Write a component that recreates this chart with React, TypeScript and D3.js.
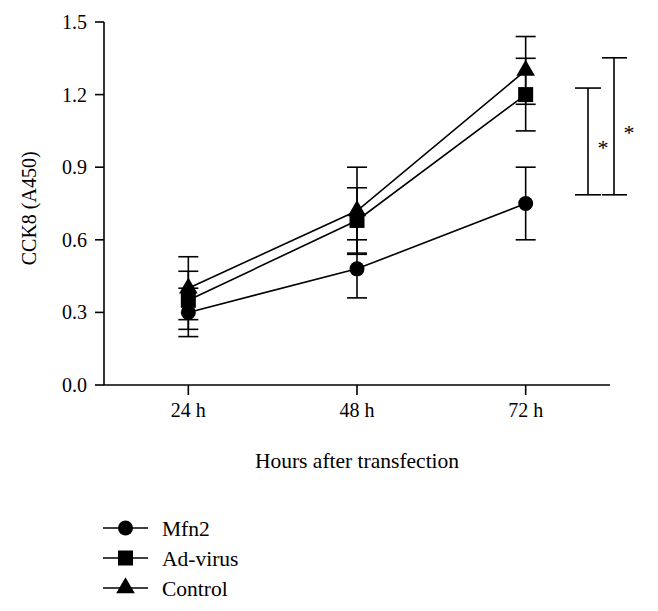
import React from "react";
import * as d3 from "d3";

const categories = ["24 h", "48 h", "72 h"];
const seriesNames = ["Mfn2", "Ad-virus", "Control"];
const mfn2Values = [0.30, 0.48, 0.75];
const mfn2Errors = [0.10, 0.12, 0.15];
const adVirusValues = [0.35, 0.68, 1.20];
const adVirusErrors = [0.12, 0.135, 0.15];
const controlValues = [0.40, 0.72, 1.30];
const controlErrors = [0.13, 0.18, 0.14];
const yTicks = [0.0, 0.3, 0.6, 0.9, 1.2, 1.5];
const brackets = [
  { top: 1.227, bottom: 0.786, label: "*" },
  { top: 1.352, bottom: 0.786, label: "*" },
];

const W = 658;
const H = 611;
const FONT = "'Liberation Serif', 'Times New Roman', serif";

export default function App() {
  const x = d3.scalePoint<string>().domain(categories).range([104, 610]).padding(0.5);
  const y = d3.scaleLinear().domain([0, 1.5]).range([385, 22]);

  const series = [
    { name: seriesNames[0], values: mfn2Values, errors: mfn2Errors, shape: "circle" },
    { name: seriesNames[1], values: adVirusValues, errors: adVirusErrors, shape: "square" },
    { name: seriesNames[2], values: controlValues, errors: controlErrors, shape: "triangle" },
  ];

  const line = d3
    .line<number>()
    .x((_, i) => x(categories[i]) as number)
    .y((d) => y(d));

  const marker = (shape: string, cx: number, cy: number, key?: string) => {
    if (shape === "circle") return <circle key={key} cx={cx} cy={cy} r={7.5} fill="#000" />;
    if (shape === "square")
      return <rect key={key} x={cx - 7.5} y={cy - 7.5} width={15} height={15} fill="#000" />;
    const p = d3.symbol(d3.symbolTriangle, 150)();
    return <path key={key} d={p as string} transform={`translate(${cx},${cy})`} fill="#000" />;
  };

  const sw = 1.6;
  const capHalf = 10;
  const bx = [588, 614];
  const capL = [[575, 601], [602, 627]];
  const starX = [603, 629];

  return (
    <svg width={W} height={H} style={{ display: "block", position: "absolute", left: 0, top: 0 }}>
      <rect width={W} height={H} fill="#fff" />
      {/* Y axis */}
      <line x1={104} x2={104} y1={y(1.5)} y2={y(0)} stroke="#000" strokeWidth={sw} />
      {yTicks.map((t) => (
        <g key={t}>
          <line x1={95} x2={104} y1={y(t)} y2={y(t)} stroke="#000" strokeWidth={sw} />
          <text x={87} y={y(t)} dy="0.35em" textAnchor="end" fontFamily={FONT} fontSize={20}>
            {t.toFixed(1)}
          </text>
        </g>
      ))}
      <text
        transform={`translate(29,${y(0.73)}) rotate(-90)`}
        textAnchor="middle"
        dy="0.35em"
        fontFamily={FONT}
        fontSize={20}
      >
        CCK8 (A450)
      </text>
      {/* X axis */}
      <line x1={104} x2={610} y1={385} y2={385} stroke="#000" strokeWidth={sw} />
      {categories.map((c) => (
        <g key={c}>
          <line x1={x(c)} x2={x(c)} y1={385} y2={395} stroke="#000" strokeWidth={sw} />
          <text x={x(c)} y={417} textAnchor="middle" fontFamily={FONT} fontSize={20}>
            {c}
          </text>
        </g>
      ))}
      <text x={357} y={468} textAnchor="middle" fontFamily={FONT} fontSize={21.5}>
        Hours after transfection
      </text>
      {/* error bars */}
      {series.map((s) =>
        s.values.map((v, i) => {
          const cx = x(categories[i]) as number;
          const hi = y(v + s.errors[i]);
          const lo = y(v - s.errors[i]);
          return (
            <g key={s.name + i} stroke="#000" strokeWidth={sw}>
              <line x1={cx} x2={cx} y1={hi} y2={lo} />
              <line x1={cx - capHalf} x2={cx + capHalf} y1={hi} y2={hi} />
              <line x1={cx - capHalf} x2={cx + capHalf} y1={lo} y2={lo} />
            </g>
          );
        })
      )}
      {/* lines */}
      {series.map((s) => (
        <path key={s.name} d={line(s.values) as string} fill="none" stroke="#000" strokeWidth={sw} />
      ))}
      {/* markers */}
      {series.map((s) =>
        s.values.map((v, i) => marker(s.shape, x(categories[i]) as number, y(v), s.name + "m" + i))
      )}
      {/* significance brackets */}
      {brackets.map((b, i) => (
        <g key={i} stroke="#000" strokeWidth={sw}>
          <line x1={bx[i]} x2={bx[i]} y1={y(b.top)} y2={y(b.bottom)} />
          <line x1={capL[i][0]} x2={capL[i][1]} y1={y(b.top)} y2={y(b.top)} />
          <line x1={capL[i][0]} x2={capL[i][1]} y1={y(b.bottom)} y2={y(b.bottom)} />
        </g>
      ))}
      {brackets.map((b, i) => (
        <text
          key={"s" + i}
          x={starX[i]}
          y={(y(b.top) + y(b.bottom)) / 2 + 14}
          textAnchor="middle"
          fontFamily={FONT}
          fontSize={22}
        >
          {b.label}
        </text>
      ))}
      {/* legend */}
      {series.map((s, i) => {
        const ly = 528 + i * 30;
        return (
          <g key={"l" + s.name}>
            <line x1={103} x2={148} y1={ly} y2={ly} stroke="#000" strokeWidth={sw} />
            {marker(s.shape, 125.5, ly)}
            <text x={162} y={ly} dy="0.35em" fontFamily={FONT} fontSize={21.5}>
              {s.name}
            </text>
          </g>
        );
      })}
    </svg>
  );
}
